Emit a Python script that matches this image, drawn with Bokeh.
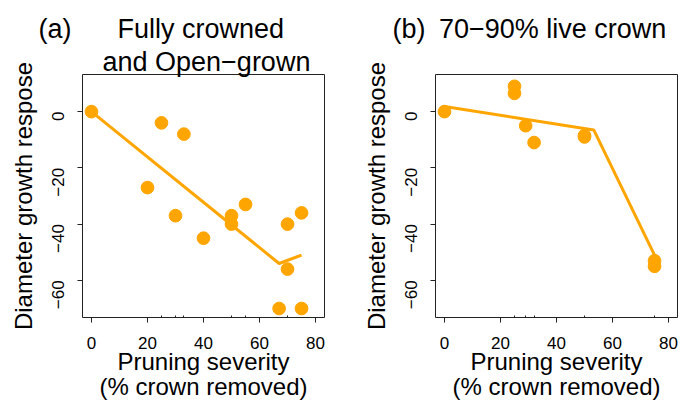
import math
from bokeh.plotting import figure
from bokeh.layouts import row
from bokeh.models import FixedTicker, Range1d, Title, LinearAxis
from bokeh.embed import file_html
from bokeh.resources import INLINE

# ---------------- data ----------------
a_severity = [0, 20, 25, 30, 33, 40, 50, 50, 55, 67, 70, 70, 75, 75]
a_response = [0, -27, -4, -37, -8, -45, -37, -40, -33, -70, -40, -56, -36, -70]
a_fit_x = [0, 67, 75]
a_fit_y = [0, -54, -51]
a_rug = [25, 30, 33, 50, 55, 70]

b_severity = [0, 25, 25, 29, 32, 50, 50, 75, 75]
b_response = [0, 9, 6.5, -5, -11, -8.5, -9, -53, -55]
b_fit_x = [0, 53.3, 75]
b_fit_y = [1.8, -6.5, -51]
b_rug = [25, 29, 32, 50, 75]

x_ticks = [0, 20, 40, 60, 80]
y_ticks = [-60, -40, -20, 0]
y_tick_labels = ["−60", "−40", "−20", "0"]

title_a_tag = "(a)"
title_a_lines = ["Fully crowned", "and Open−grown"]
title_b_tag = "(b)"
title_b_text = "70−90% live crown"
y_label = "Diameter growth respose"
x_label_lines = ["Pruning severity", "(% crown removed)"]

# ---------------- layout / style ----------------
FONT = "Liberation Sans"
ORANGE = "#FFA500"
INK = "#222222"
X0, X1 = -3.2, 83.2
Y0, Y1 = -73.2, 13.2
FRAME_W, FRAME_H = 242, 243
FRAME_TOP = 74
TOTAL_H = 404
EM, EN, THIN = "\u2003", "\u2002", "\u2009"


def make_panel(border_left, border_right, xs, ys, fx, fy, rug):
    p = figure(
        frame_width=FRAME_W, frame_height=FRAME_H,
        min_border_left=border_left, min_border_right=border_right,
        min_border_top=FRAME_TOP,
        min_border_bottom=TOTAL_H - FRAME_TOP - FRAME_H,
        x_range=Range1d(X0, X1), y_range=Range1d(Y0, Y1),
        output_backend="svg", toolbar_location=None,
        background_fill_color="white", border_fill_color="white",
    )
    p.grid.visible = False
    p.outline_line_color = INK
    p.outline_line_width = 1

    xa = p.xaxis[0]
    xa.ticker = FixedTicker(ticks=x_ticks, minor_ticks=rug)
    xa.axis_line_color = None
    xa.major_tick_in = 0
    xa.major_tick_out = 5
    xa.major_tick_line_color = INK
    xa.minor_tick_in = 2
    xa.minor_tick_out = 0
    xa.minor_tick_line_color = INK
    xa.major_label_text_font = FONT
    xa.major_label_text_font_size = "17px"
    xa.major_label_text_color = "black"
    xa.major_label_standoff = 14
    xa.axis_label = x_label_lines[0]
    xa.axis_label_text_font = FONT
    xa.axis_label_text_font_size = "24px"
    xa.axis_label_text_font_style = "normal"
    xa.axis_label_text_color = "black"
    xa.axis_label_standoff = -4

    xa2 = LinearAxis(ticker=FixedTicker(ticks=[], minor_ticks=[]),
                     axis_label=x_label_lines[1])
    xa2.axis_line_color = None
    xa2.major_tick_out = 0
    xa2.major_tick_in = 0
    xa2.minor_tick_out = 0
    xa2.minor_tick_in = 0
    xa2.major_label_standoff = 0
    xa2.axis_label_text_font = FONT
    xa2.axis_label_text_font_size = "24px"
    xa2.axis_label_text_font_style = "normal"
    xa2.axis_label_text_color = "black"
    xa2.axis_label_standoff = -5
    p.add_layout(xa2, "below")

    ya = p.yaxis[0]
    ya.ticker = FixedTicker(ticks=y_ticks, minor_ticks=[])
    ya.major_label_overrides = {t: s for t, s in zip(y_ticks, y_tick_labels)}
    ya.axis_line_color = None
    ya.major_tick_in = 0
    ya.major_tick_out = 5
    ya.major_tick_line_color = INK
    ya.minor_tick_line_color = None
    ya.major_label_orientation = math.pi / 2
    ya.major_label_text_font = FONT
    ya.major_label_text_font_size = "17px"
    ya.major_label_text_color = "black"
    ya.major_label_standoff = 20
    ya.axis_label = y_label
    ya.axis_label_text_font = FONT
    ya.axis_label_text_font_size = "24px"
    ya.axis_label_text_font_style = "normal"
    ya.axis_label_text_color = "black"
    ya.axis_label_standoff = 6

    p.scatter(xs, ys, size=12.7, color=ORANGE)
    p.line(fx, fy, line_width=3, color=ORANGE)
    return p


def style_title(t, align="center"):
    t.text_font = FONT
    t.text_font_size = "27px"
    t.text_font_style = "normal"
    t.text_color = "black"
    t.align = align


# panel (a): outer title row carries the tag, inner row the second line
pa = make_panel(82, 16, a_severity, a_response, a_fit_x, a_fit_y, a_rug)
pa.title.text = title_a_tag + EM + EN + THIN + title_a_lines[0]
style_title(pa.title, align="left")
pa.title.offset = 38 - 82
pa.title.standoff = 6
t_a2 = Title(text=title_a_lines[1])
style_title(t_a2, align="left")
t_a2.offset = 102 - 82
t_a2.standoff = -4
pa.add_layout(t_a2, "above")

# panel (b)
pb = make_panel(95, 4, b_severity, b_response, b_fit_x, b_fit_y, b_rug)
pb.title.text = title_b_tag + EN + title_b_text
style_title(pb.title, align="left")
pb.title.offset = 392 - 435
pb.title.standoff = 0
t_b2 = Title(text=" ")
style_title(t_b2)
t_b2.standoff = -1
pb.add_layout(t_b2, "above")

layout = row(pa, pb)
open("out.html", "w").write(file_html(layout, INLINE))
